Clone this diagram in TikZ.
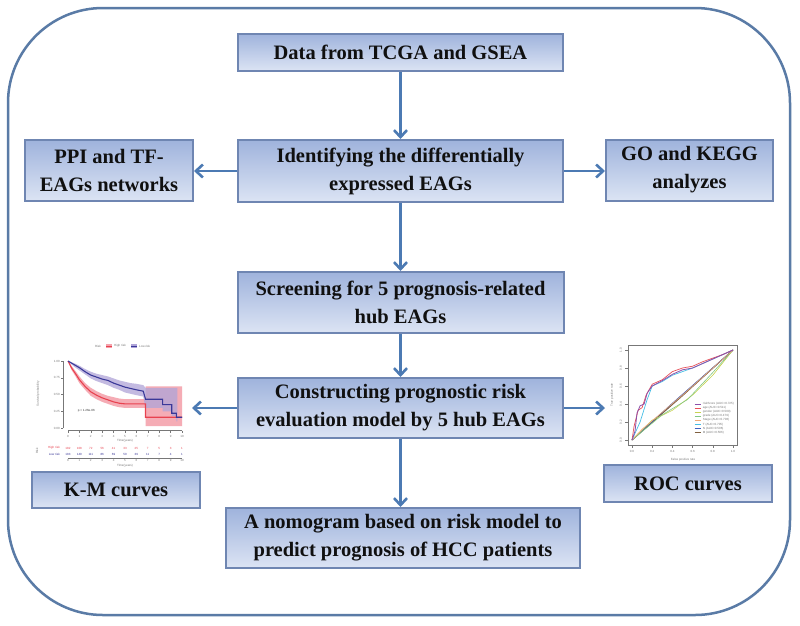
\documentclass[tikz,border=0pt]{standalone}
\usepackage{fontspec}
\setmainfont{Liberation Serif}
\setsansfont{Liberation Sans}
\usetikzlibrary{arrows.meta}
\definecolor{outerc}{HTML}{5A7BA6}
\definecolor{boxdraw}{HTML}{6F86B2}
\definecolor{boxtop}{HTML}{9FB3DC}
\definecolor{boxbot}{HTML}{DCE4F4}
\definecolor{arrowc}{HTML}{4C7AB3}
\definecolor{txt}{HTML}{101010}
\definecolor{kmred}{HTML}{E8424F}
\definecolor{kmblue}{HTML}{3A3898}
\definecolor{kmredband}{HTML}{F4A3AD}
\definecolor{kmblueband}{HTML}{AFA4D8}
\definecolor{axc}{HTML}{777777}
\definecolor{rocA}{RGB}{140,80,170}
\definecolor{rocB}{RGB}{230,80,90}
\definecolor{rocC}{RGB}{200,210,80}
\definecolor{rocD}{RGB}{130,200,130}
\definecolor{rocE}{RGB}{240,170,120}
\definecolor{rocF}{RGB}{70,190,230}
\definecolor{rocG}{RGB}{64,96,192}
\definecolor{rocH}{RGB}{128,96,64}
\tikzset{
  box/.style={draw=boxdraw, line width=2pt, top color=boxtop, bottom color=boxbot,
    inner sep=0pt, align=center, text=txt,
    font=\fontsize{20.5}{28}\selectfont\bfseries},
  flow/.style={draw=arrowc, line width=2.6pt, -{Straight Barb[length=7pt,width=13pt]}},
  tiny/.style={font=\sffamily\fontsize{3}{3.5}\selectfont, text=axc, inner sep=0pt},
  axis/.style={draw=axc, line width=0.4pt},
}
\begin{document}
\begin{tikzpicture}[x=1pt,y=-1pt]
\useasboundingbox (0,0) rectangle (800,625);
\fill[white] (0,0) rectangle (800,625);
\draw[outerc, line width=2.5pt, rounded corners=95pt] (8,8) rectangle (790,615);

% boxes
\node[box, minimum width=325pt, minimum height=37pt] (top) at (400.5,52.5) {Data from TCGA and GSEA};
\node[box, minimum width=325pt, minimum height=62pt] (ident) at (400.5,171) {Identifying the differentially\\expressed EAGs};
\node[box, minimum width=168pt, minimum height=61pt] (ppi) at (109,170.5) {PPI and TF-\\EAGs networks};
\node[box, minimum width=167pt, minimum height=61pt] (go) at (689.5,170) {GO and KEGG\\analyzes};
\node[box, minimum width=326pt, minimum height=61pt] (screen) at (400.5,302.5) {Screening for 5 prognosis-related\\hub EAGs};
\node[box, minimum width=325pt, minimum height=60pt] (cons) at (400.5,408) {Constructing prognostic risk\\evaluation model by 5 hub EAGs};
\node[box, minimum width=354pt, minimum height=60pt] (nomo) at (403,538) {A nomogram based on risk model to\\predict prognosis of HCC patients};
\node[box, minimum width=168pt, minimum height=36pt] (km) at (116,490) {K-M curves};
\node[box, minimum width=168pt, minimum height=37pt] (roc) at (688,483.5) {ROC curves};

\coordinate (kmend) at (192,408);
\coordinate (rocend) at (605,408);

% arrows
\draw[flow] (top.south) -- (top.south |- ident.north);
\draw[flow] (ident.west) -- (ident.west -| ppi.east);
\draw[flow] (ident.east) -- (ident.east -| go.west);
\draw[flow] (ident.south) -- (ident.south |- screen.north);
\draw[flow] (screen.south) -- (screen.south |- cons.north);
\draw[flow] (cons.south) -- (cons.south |- nomo.north);
\draw[flow] (cons.west) -- (kmend);
\draw[flow] (cons.east) -- (rocend);

% ---------- K-M plot ----------
\begin{scope}[xshift=68pt, yshift=-428pt, x=11.4pt, y=67pt]
  \fill[kmredband, opacity=0.9] (0,1) -- (0.3,0.93) -- (0.7,0.84) -- (1,0.77) -- (1.5,0.67) -- (2,0.6) -- (2.5,0.55) -- (3,0.51) -- (3.5,0.48) -- (4,0.46) -- (4.5,0.44) -- (5,0.43) -- (6.8,0.43) -- (6.8,0.62) -- (10,0.62)
    -- (10,0.03) -- (6.8,0.03) -- (6.8,0.3) -- (5,0.3) -- (4.5,0.31) -- (4,0.33) -- (3.5,0.36) -- (3,0.39) -- (2.5,0.43) -- (2,0.48) -- (1.5,0.57) -- (1,0.67) -- (0.7,0.76) -- (0.3,0.87) -- cycle;
  \fill[kmblueband, opacity=0.75] (0,1) -- (0.5,0.97) -- (1,0.93) -- (1.5,0.88) -- (2,0.84) -- (2.5,0.81) -- (3,0.79) -- (3.5,0.77) -- (4,0.74) -- (4.5,0.71) -- (5,0.69) -- (5.5,0.67) -- (6,0.66) -- (6.6,0.64) -- (6.8,0.6) -- (9.6,0.6)
    -- (9.6,0.1) -- (9.5,0.1) -- (9.5,0.18) -- (9.1,0.18) -- (9.1,0.25) -- (8.3,0.25) -- (8.3,0.3) -- (6.8,0.3) -- (6.6,0.47) -- (6,0.49) -- (5.5,0.51) -- (5,0.53) -- (4.5,0.57) -- (4,0.6) -- (3.5,0.64) -- (3,0.67) -- (2.5,0.7) -- (2,0.74) -- (1.5,0.8) -- (1,0.86) -- (0.5,0.92) -- cycle;
  \draw[kmred, line width=1.1pt] (0,1) -- (0.3,0.9) -- (0.7,0.8) -- (1,0.72) -- (1.5,0.62) -- (2,0.54) -- (2.5,0.49) -- (3,0.45) -- (3.5,0.42) -- (4,0.39) -- (4.5,0.37) -- (5,0.36) -- (6.8,0.36) -- (6.8,0.16) -- (10,0.16);
  \draw[kmblue, line width=1.1pt] (0,1) -- (0.5,0.95) -- (1,0.9) -- (1.5,0.84) -- (2,0.79) -- (2.5,0.76) -- (3,0.73) -- (3.5,0.71) -- (4,0.67) -- (4.5,0.64) -- (5,0.61) -- (5.5,0.59) -- (6,0.57) -- (6.6,0.55) -- (6.8,0.43) -- (8.3,0.43) -- (8.3,0.35) -- (9.1,0.35) -- (9.1,0.22) -- (9.5,0.22) -- (9.5,0.16) -- (10,0.16);
  \draw[axis] (-0.45,0) -- (-0.45,1);
  \draw[axis] (0,-0.04) -- (10,-0.04);
  \foreach \s/\l in {0/0.00,0.25/0.25,0.5/0.50,0.75/0.75,1/1.00}{
    \draw[axis] (-0.45,\s) -- (-0.6,\s);
    \node[tiny, anchor=east] at (-0.7,\s) {\l};}
  \foreach \t in {0,...,10}{
    \draw[axis] (\t,-0.04) -- (\t,-0.08);
    \node[tiny] at (\t,-0.13) {\t};}
  \node[tiny, text=black!80] at (1.6,0.25) {p = 1.26e-06};
\end{scope}
\node[tiny, rotate=90] at (38,394) {Survival probability};
\node[tiny] at (125,441) {Time(years)};
% legend
\node[tiny] at (98,346) {Risk};
\fill[kmredband] (106,344) rectangle (112,348); \draw[kmred, line width=0.6pt] (106,346) -- (112,346);
\node[tiny, anchor=west] at (114,346) {High risk};
\fill[kmblueband] (131,344) rectangle (137,348); \draw[kmblue, line width=0.6pt] (131,346) -- (137,346);
\node[tiny, anchor=west] at (139,346) {Low risk};
% risk table
\node[tiny, rotate=90] at (37,451) {Risk};
\node[tiny, text=kmred, anchor=east] at (60,448) {High risk};
\node[tiny, text=kmblue, anchor=east] at (60,454) {Low risk};
\foreach \t/\a/\b in {0/182/183,1/108/140,2/72/111,3/56/86,4/41/69,5/33/50,6/25/39,7/7/11,8/5/7,9/3/4,10/1/1}{
  \node[tiny, text=kmred] at ({68+11.4*\t},448) {\a};
  \node[tiny, text=kmblue] at ({68+11.4*\t},454) {\b};
  \node[tiny] at ({68+11.4*\t},460) {\t};}
\draw[axis] (68,458) -- (182,458);
\node[tiny] at (125,466) {Time(years)};

% ---------- ROC plot ----------
\begin{scope}[xshift=632pt, yshift=-440pt, x=101pt, y=90pt]
  \draw[axis] (-0.04,-0.055) rectangle (1.04,1.055);
  \foreach \v in {0.0,0.2,0.4,0.6,0.8,1.0}{
    \draw[axis] (\v,-0.055) -- (\v,-0.085);
    \node[tiny] at (\v,-0.13) {\v};
    \draw[axis] (-0.04,\v) -- (-0.07,\v);
    \node[tiny, rotate=90] at (-0.11,\v) {\v};}
  \draw[black!75, line width=0.9pt] (0,0) -- (1,1);
  \draw[rocH, line width=0.6pt] (0,0) -- (0.5,0.49) -- (1,1);
  \draw[rocG, line width=0.6pt] (0,0) -- (0.4,0.41) -- (1,1);
  \draw[rocC, line width=0.6pt] (0,0) -- (0.2,0.22) -- (0.4,0.33) -- (0.6,0.5) -- (0.8,0.72) -- (1,1);
  \draw[rocD, line width=0.6pt] (0,0) -- (0.3,0.28) -- (0.55,0.45) -- (0.8,0.75) -- (1,1);
  \draw[rocE, line width=0.6pt] (0,0) -- (0.1,0.12) -- (0.5,0.5) -- (1,1);
  \draw[rocF, line width=0.7pt] (0,0) -- (0.08,0.2) -- (0.15,0.45) -- (0.2,0.6) -- (0.3,0.65) -- (0.4,0.72) -- (0.6,0.8) -- (0.8,0.9) -- (1,1);
  \draw[rocB, line width=0.7pt] (0,0) -- (0.02,0.15) -- (0.06,0.33) -- (0.1,0.36) -- (0.14,0.5) -- (0.2,0.62) -- (0.3,0.67) -- (0.4,0.76) -- (0.5,0.8) -- (0.6,0.82) -- (0.7,0.87) -- (0.8,0.91) -- (0.9,0.95) -- (1,1);
  \draw[rocA, line width=0.8pt] (0,0) -- (0.03,0.1) -- (0.05,0.3) -- (0.08,0.38) -- (0.12,0.4) -- (0.15,0.52) -- (0.2,0.6) -- (0.3,0.66) -- (0.4,0.73) -- (0.5,0.78) -- (0.6,0.8) -- (0.7,0.85) -- (0.8,0.9) -- (0.9,0.95) -- (1,1);
  \foreach \i/\c/\l in {0/rocA/riskScore (AUC=0.725),
      1/rocB/age (AUC=0.511),
      2/rocC/gender (AUC=0.509),
      3/rocD/grade (AUC=0.479),
      4/rocE/Stage (AUC=0.706),
      5/rocF/T (AUC=0.705),
      6/rocG/N (AUC=0.506),
      7/rocH/M (AUC=0.506)}{
    \draw[\c, line width=0.6pt] (0.62,{0.4-0.045*\i}) -- (0.68,{0.4-0.045*\i});
    \node[tiny, anchor=west] at (0.7,{0.4-0.045*\i}) {\l};}
\end{scope}
\node[tiny, rotate=90] at (612,395) {True positive rate};
\node[tiny] at (683,460) {False positive rate};
\end{tikzpicture}
\end{document}
